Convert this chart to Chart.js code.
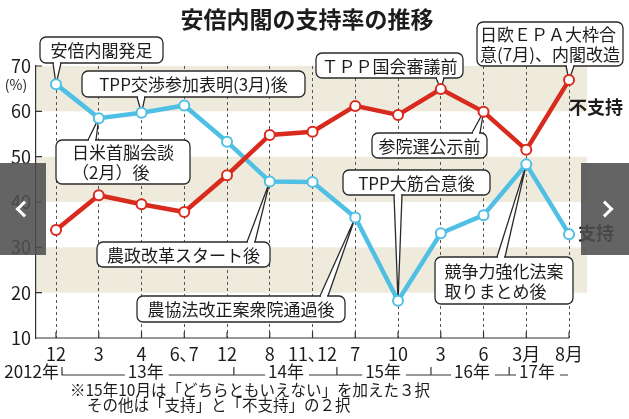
<!DOCTYPE html>
<html lang="ja">
<head>
<meta charset="utf-8">
<script src="https://cdn.jsdelivr.net/npm/chart.js@4.4.1/dist/chart.umd.min.js"></script>
<style>
    html, body { margin: 0; padding: 0; background: #fff; }
    #wrap { position: relative; width: 629px; height: 419px; }
    .nav { position: absolute; top: 163px; height: 92px; background: rgba(78,78,78,.88); }
    .nav i { position: absolute; top: 40px; width: 9px; height: 9px; border-left: 3px solid #fff; border-bottom: 3px solid #fff; }
    #navL { left: 0; width: 46px; }
    #navL i { left: 18px; transform: rotate(45deg); }
    #navR { left: 581px; width: 48px; }
    #navR i { left: 18px; transform: rotate(-135deg); }
</style>
</head>
<body>
<div id="wrap">
    <canvas id="supportChart"></canvas>
    <div class="nav" id="navL"><i></i></div>
    <div class="nav" id="navR"><i></i></div>
</div>
<script>
/* ==========================================================
   DATA
========================================================== */

const months = ["12", "3", "4", "6､7", "12", "8", "11､12", "7", "10", "3", "6", "3月", "8月"];

const notSupport = [33.8, 41.5, 39.5, 37.8, 45.9, 54.8, 55.5, 61.2, 59.2, 64.9, 59.9, 51.5, 66.9];

const support = [66.0, 58.5, 59.7, 61.3, 53.3, 44.5, 44.4, 36.6, 18.2, 33.1, 37.1, 48.3, 32.9];

const yTicks = [10, 20, 30, 40, 50, 60, 70];

const years = ["13年", "14年", "15年", "16年", "17年"];

const title = "安倍内閣の支持率の推移";

const notes = [
    "※15年10月は「どちらともいえない」を加えた３択",
    "その他は「支持」と「不支持」の２択"
];

/* ==========================================================
   LAYOUT
========================================================== */

const JP = '"Noto Sans CJK JP", "DejaVu Sans", sans-serif';

const RED = "#d92a1e";
const BLUE = "#4fc0e4";
const BAND = "#efebdc";

const bands = [[20, 30], [40, 50], [60, 70]];

// year bracket: tick positions and label centres, in category units
const yearTicks = [0.14, 4.16, 6.57, 8.77, 10.6];
const yearPos = [2.1, 5.38, 7.65, 9.73, 11.25];

// callouts: box in pixels, ds = dataset index, i = point index, bx = tail base x
const callouts = [
    { lines: ["安倍内閣発足"], x: 40, y: 37, w: 123, h: 26, ds: 1, i: 0, bx: 57 },
    { lines: ["TPP交渉参加表明(3月)後"], x: 82, y: 71, w: 223, h: 26, ds: 1, i: 2, bx: 141 },
    { lines: ["日米首脳会談", "（2月）後"], x: 56, y: 140, w: 134, h: 44, ds: 1, i: 1, bx: 92 },
    { lines: ["ＴＰＰ国会審議前"], x: 316, y: 53, w: 147, h: 25, ds: 0, i: 9, bx: 440 },
    { lines: ["日欧ＥＰＡ大枠合", "意(7月)、内閣改造"], x: 477, y: 22, w: 146, h: 44, ds: 0, i: 12, bx: 570 },
    { lines: ["参院選公示前"], x: 372, y: 133, w: 115, h: 25, ds: 0, i: 10, bx: 476 },
    { lines: ["TPP大筋合意後"], x: 343, y: 170, w: 147, h: 25, ds: 1, i: 8, bx: 398 },
    { lines: ["農政改革スタート後"], x: 97, y: 242, w: 173, h: 25, ds: 1, i: 5, bx: 251 },
    { lines: ["農協法改正案衆院通過後"], x: 137, y: 296, w: 208, h: 26, ds: 1, i: 7, bx: 324 },
    { lines: ["競争力強化法案", "取りまとめ後"], x: 435, y: 257, w: 138, h: 47, ds: 1, i: 11, bx: 501 }
];

function roundRect(ctx, x, y, w, h, r) {
    ctx.beginPath();
    ctx.moveTo(x + r, y);
    ctx.arcTo(x + w, y, x + w, y + h, r);
    ctx.arcTo(x + w, y + h, x, y + h, r);
    ctx.arcTo(x, y + h, x, y, r);
    ctx.arcTo(x, y, x + w, y, r);
    ctx.closePath();
}

function drawCallout(ctx, c, tip) {
    const down = tip.y > c.y + c.h;
    const ey = down ? c.y + c.h : c.y;
    const half = 4;

    ctx.save();
    ctx.strokeStyle = "#2a2a2a";
    ctx.lineWidth = 1.3;
    ctx.fillStyle = "#fff";

    // tail
    ctx.beginPath();
    ctx.moveTo(c.bx - half, ey);
    ctx.lineTo(tip.x, tip.y);
    ctx.lineTo(c.bx + half, ey);
    ctx.fill();
    ctx.stroke();

    // box
    roundRect(ctx, c.x, c.y, c.w, c.h, 6);
    ctx.fill();
    ctx.stroke();

    ctx.fillRect(c.bx - half + 1, ey - 1.5, 2 * half - 2, 3);

    // text
    ctx.font = "17px " + JP;
    ctx.fillStyle = "#1c1c1c";
    ctx.textBaseline = "middle";
    const widths = c.lines.map(l => ctx.measureText(l).width);
    const tx = c.x + (c.w - Math.max(...widths)) / 2;
    const lh = 20;
    const top = c.y + c.h / 2 - (c.lines.length - 1) * lh / 2;
    c.lines.forEach((l, k) => {
        ctx.textAlign = c.lines.length > 1 ? "left" : "center";
        ctx.fillText(l, c.lines.length > 1 ? tx : c.x + c.w / 2, top + k * lh + 1);
    });
    ctx.restore();
}

/* ==========================================================
   PLUGIN: BANDS, AXES, CALLOUTS, TEXT
========================================================== */

const extras = {

    id: "extras",

    beforeDraw(chart) {
        const { ctx, chartArea: a, scales: { y } } = chart;
        ctx.save();
        ctx.fillStyle = BAND;
        bands.forEach(([lo, hi]) => {
            const t = y.getPixelForValue(hi);
            const b = y.getPixelForValue(lo);
            ctx.fillRect(a.left, t, a.right - a.left, b - t);
        });
        ctx.restore();
    },

    beforeDatasetsDraw(chart) {
        const { ctx, chartArea: a, scales: { x, y } } = chart;

        ctx.save();
        ctx.strokeStyle = "#333";
        ctx.lineWidth = 1.2;

        // x axis line and ticks
        const xEnd = x.getPixelForValue(months.length - 1);
        ctx.beginPath();
        ctx.moveTo(a.left, a.bottom);
        ctx.lineTo(xEnd, a.bottom);
        months.forEach((m, i) => {
            const px = x.getPixelForValue(i);
            ctx.moveTo(px, a.bottom);
            ctx.lineTo(px, a.bottom - 6);
        });

        // y axis inward ticks
        yTicks.forEach(v => {
            const py = y.getPixelForValue(v);
            ctx.moveTo(a.left, py);
            ctx.lineTo(a.left + 6, py);
        });
        ctx.stroke();
        ctx.restore();

        callouts.forEach(c => {
            const p = chart.getDatasetMeta(c.ds).data[c.i];
            drawCallout(ctx, c, { x: p.x, y: p.y });
        });
    },

    afterDraw(chart) {
        const { ctx, chartArea: a, scales: { x, y } } = chart;

        ctx.save();
        ctx.fillStyle = "#1c1c1c";
        ctx.textBaseline = "middle";

        // title
        ctx.font = "bold 23px " + JP;
        ctx.textAlign = "center";
        ctx.fillText(title, 307, 19);

        // unit
        ctx.font = "14px " + JP;
        ctx.fillText("(%)", 16, 85);

        // series labels
        ctx.font = "bold 18px " + JP;
        ctx.textAlign = "left";
        const last = months.length - 1;
        ctx.fillText("不支持", 569, y.getPixelForValue(notSupport[last]) + 27);
        ctx.fillText("支持", 578, y.getPixelForValue(support[last]) - 1);

        // year bracket row
        const ry = 375;
        ctx.font = "17px " + JP;
        ctx.strokeStyle = "#333";
        ctx.lineWidth = 1.2;

        const t0 = x.getPixelForValue(yearTicks[0]);
        ctx.textAlign = "right";
        ctx.fillText("2012年", t0 - 3, ry - 3);
        ctx.textAlign = "center";

        ctx.beginPath();
        yearTicks.forEach(t => {
            const px = x.getPixelForValue(t);
            ctx.moveTo(px, ry + 0.5);
            ctx.lineTo(px, ry - 8);
        });

        let prev = t0;
        years.forEach((label, k) => {
            const cx = x.getPixelForValue(yearPos[k]);
            const w = ctx.measureText(label).width;
            ctx.fillText(label, cx, ry - 3);
            ctx.moveTo(prev, ry);
            ctx.lineTo(cx - w / 2 - 3, ry);
            prev = cx + w / 2 + 3;
            const next = k + 1 < yearTicks.length ? x.getPixelForValue(yearTicks[k + 1]) : x.getPixelForValue(last) - 1;
            ctx.moveTo(prev + 2, ry);
            ctx.lineTo(next, ry);
            prev = next;
        });
        ctx.stroke();

        // footnote
        ctx.font = "15.5px " + JP;
        ctx.textAlign = "left";
        ctx.fillText(notes[0], 70, 390);
        ctx.fillText(notes[1], 87, 405);

        ctx.restore();
    }

};

/* ==========================================================
   CHART
========================================================== */

document.addEventListener("DOMContentLoaded", () => {

    Chart.defaults.font.family = JP;

    Chart.defaults.color = "#1c1c1c";

    new Chart(document.getElementById("supportChart"), {

        type: "line",

        data: {

            labels: months,

            datasets: [

                {
                    label: "不支持",
                    data: notSupport.map((v, i) => ({ x: i, y: v })),
                    borderColor: RED,
                    backgroundColor: "#fff",
                    borderWidth: 4.5,
                    pointRadius: 5,
                    pointBorderWidth: 2,
                    pointBackgroundColor: "#fff",
                    pointBorderColor: RED,
                    tension: 0
                },

                {
                    label: "支持",
                    data: support.map((v, i) => ({ x: i, y: v })),
                    borderColor: BLUE,
                    backgroundColor: "#fff",
                    borderWidth: 4.5,
                    pointRadius: 5,
                    pointBorderWidth: 2,
                    pointBackgroundColor: "#fff",
                    pointBorderColor: BLUE,
                    tension: 0
                }

            ]

        },

        options: {

            responsive: true,

            maintainAspectRatio: false,

            animation: false,

            layout: { padding: { top: 66, right: 42, bottom: 0, left: 0 } },

            plugins: {
                legend: { display: false },
                tooltip: { enabled: false }
            },

            scales: {

                x: {
                    type: "linear",
                    min: -0.468,
                    max: 12.42,
                    afterBuildTicks: s => { s.ticks = months.map((m, i) => ({ value: i })); },
                    afterFit: s => { s.height = 81; },
                    grid: { color: "#555", lineWidth: 1, drawTicks: false },
                    border: { display: false, dash: [3, 3] },
                    ticks: {
                        autoSkip: false,
                        maxRotation: 0,
                        padding: 5,
                        color: "#1c1c1c",
                        font: { size: 18 },
                        callback: v => months[v]
                    }
                },

                y: {
                    min: 10,
                    max: 70,
                    afterFit: s => { s.width = 36; },
                    afterBuildTicks: s => { s.ticks = yTicks.map(v => ({ value: v })); },
                    grid: { display: false, drawTicks: false },
                    border: { color: "#333", width: 1.2 },
                    ticks: { padding: 5, color: "#1c1c1c", font: { size: 18 } }
                }

            }

        },

        plugins: [extras]

    });

});
</script>
</body>
</html>
